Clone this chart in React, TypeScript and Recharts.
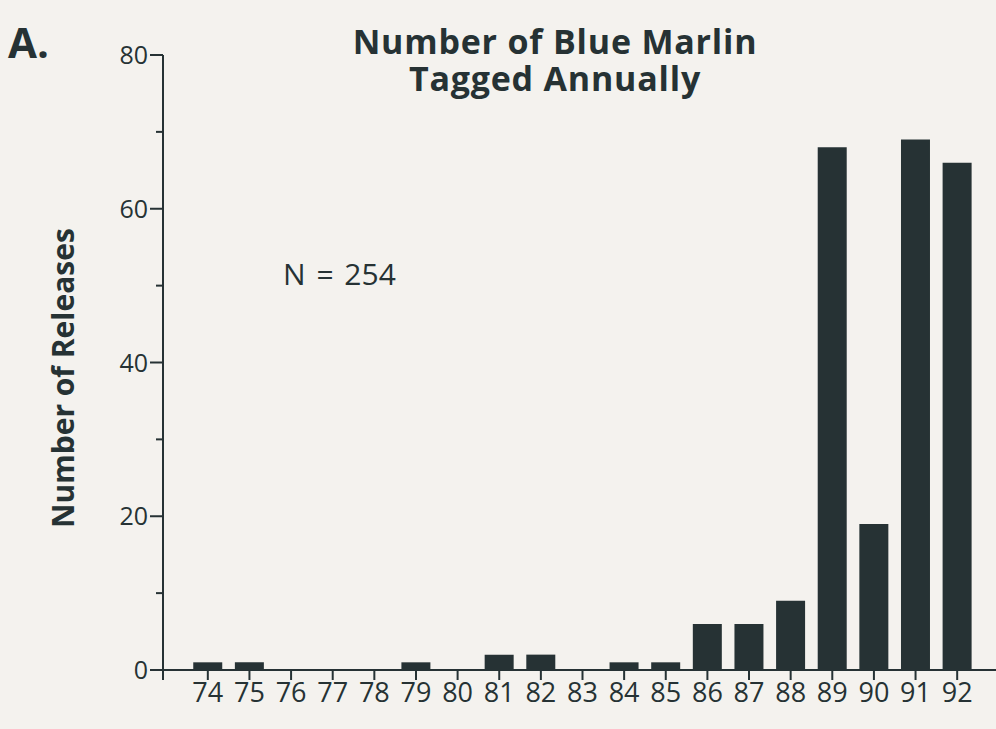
import React from 'react';
import { BarChart, Bar, XAxis, YAxis } from 'recharts';

const years = ['74', '75', '76', '77', '78', '79', '80', '81', '82', '83', '84', '85', '86', '87', '88', '89', '90', '91', '92'];
const releases = [1, 1, 0, 0, 0, 1, 0, 2, 2, 0, 1, 1, 6, 6, 9, 68, 19, 69, 66];
const yTicks = [0, 10, 20, 30, 40, 50, 60, 70, 80];

const INK = '#263234';
const FONT = '"Open Sans", "Noto Sans", sans-serif';

const data = years.map((year, i) => ({ year, count: releases[i] }));

// major ticks every 20 carry a label, minor ones at 10s are just short marks
const YTick = (props: any) => {
  const { x, y, payload } = props;
  const v = payload.value;
  const major = v % 20 === 0;
  return (
    <g>
      <line x1={x - (major ? 13 : 7)} x2={x} y1={y} y2={y} stroke={INK} strokeWidth={2} />
      {v === 0 && <line x1={x} x2={x} y1={y} y2={y + 10} stroke={INK} strokeWidth={2} />}
      {major && (
        <text x={x - 15} y={y} dy={9} textAnchor="end" fontSize={25} fontWeight={500} fill={INK} fontFamily={FONT}>
          {v}
        </text>
      )}
    </g>
  );
};

const App: React.FC = () => {
  return (
    <div style={{ position: 'fixed', left: 0, top: 0, width: 996, height: 729, background: '#f4f2ee', fontFamily: FONT, color: INK }}>
      <div style={{ position: 'absolute', left: 8, top: 18, fontSize: 42, fontWeight: 700, lineHeight: '48px' }}>A.</div>
      <div
        style={{
          position: 'absolute',
          left: 305,
          width: 500,
          top: 23,
          fontSize: 34,
          fontWeight: 700,
          lineHeight: '37px',
          letterSpacing: 0.8,
          textAlign: 'center',
        }}
      >
        <div>Number of Blue Marlin</div>
        <div>Tagged Annually</div>
      </div>
      <div style={{ position: 'absolute', left: 283, top: 254, fontSize: 30, lineHeight: '40px', wordSpacing: 3 }}>N = 254</div>
      <div
        style={{
          position: 'absolute',
          left: 63 - 170,
          top: 378 - 20,
          width: 340,
          height: 40,
          lineHeight: '40px',
          textAlign: 'center',
          fontSize: 30,
          fontWeight: 700,
          transform: 'rotate(-90deg)',
        }}
      >
        Number of Releases
      </div>
      <BarChart
        width={996}
        height={729}
        data={data}
        margin={{ top: 55, right: 0, bottom: 0, left: 0 }}
        barCategoryGap="15%"
        style={{ position: 'absolute', left: 0, top: 0 }}
      >
        <XAxis
          dataKey="year"
          padding={{ left: 24, right: 18 }}
          axisLine={{ stroke: INK, strokeWidth: 2 }}
          tickLine={{ stroke: INK, strokeWidth: 2 }}
          tickSize={10}
          tickMargin={3}
          interval={0}
          height={59}
          tick={{ fill: INK, fontSize: 27, fontWeight: 500, fontFamily: FONT }}
        />
        <YAxis
          type="number"
          domain={[0, 80]}
          ticks={yTicks}
          interval={0}
          width={163}
          axisLine={{ stroke: INK, strokeWidth: 2 }}
          tickLine={false}
          tickSize={0}
          tickMargin={0}
          tick={<YTick />}
        />
        <Bar dataKey="count" fill={INK} isAnimationActive={false} />
      </BarChart>
    </div>
  );
};

export default App;
